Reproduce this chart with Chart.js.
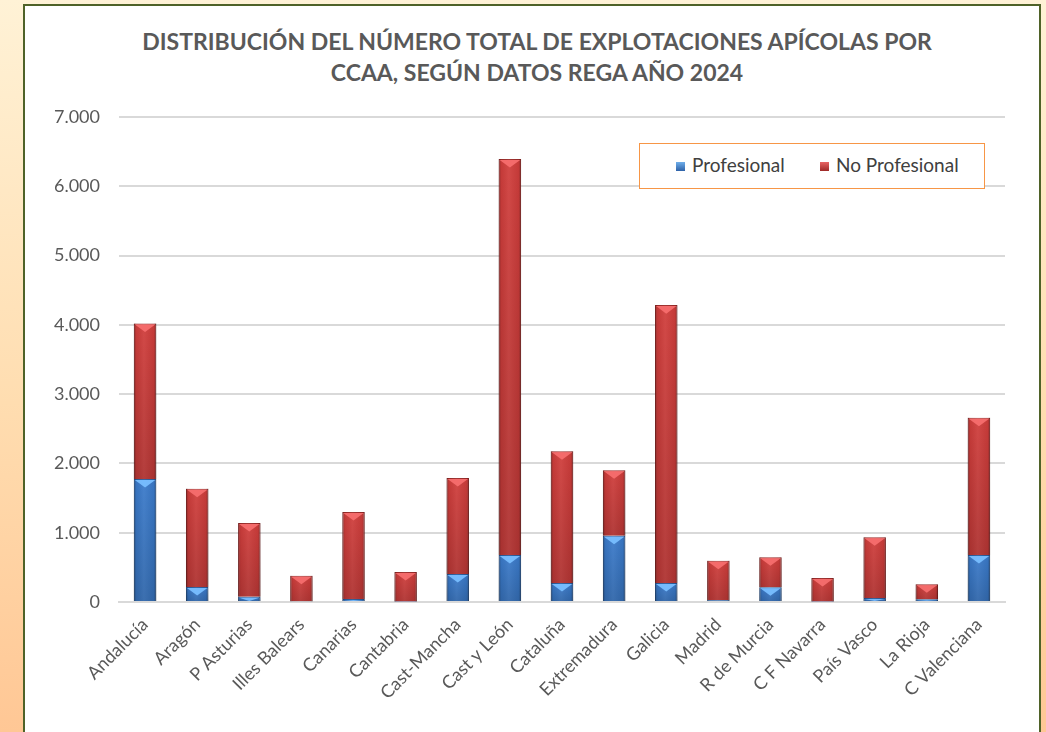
<!DOCTYPE html>
<html>
<head>
<meta charset="utf-8">
<script src="https://cdn.jsdelivr.net/npm/chart.js@4.4.1/dist/chart.umd.min.js"></script>
<style>
  html, body { margin:0; padding:0; width:1046px; height:732px; overflow:hidden;
    background: linear-gradient(to bottom, #FFF2D6 0%, #FFDDB0 55%, #FFC795 100%); }
  #box { position:absolute; left:23px; top:4px; width:1014px; height:760px;
    background:#fff; border:2px solid #4F6228; }
  #wrap { position:absolute; left:0; top:0; width:1046px; height:732px; }
  #title { position:absolute; left:0; top:26px; width:1074px; text-align:center;
    font-family:"Lato", "Liberation Sans", sans-serif; font-weight:bold; font-size:23px;
    line-height:31px; color:#595959; white-space:nowrap; }
  #legend { position:absolute; left:639px; top:143px; width:344px; height:44px;
    border:1.5px solid #F79646; background:#fff; font-family:"Lato", "Liberation Sans", sans-serif;
    font-size:19px; color:#404040; }
  .li { position:absolute; top:10px; line-height:22px; white-space:nowrap; }
  .sw { display:inline-block; width:9px; height:9px; margin-right:7px; vertical-align:1px; }
</style>
</head>
<body>
<div id="box"></div>
<div id="title"></div>
<div id="wrap"><canvas id="c" width="1046" height="732"></canvas></div>
<div id="legend">
  <div class="li" style="left:36px"><span class="sw" style="background:linear-gradient(#6FAEEA,#2E62A8)"></span>Profesional</div>
  <div class="li" style="left:180px"><span class="sw" style="background:linear-gradient(#E86464,#9E2A28)"></span>No Profesional</div>
</div>
<script>
const categories = ["Andalucía","Aragón","P Asturias","Illes Balears","Canarias","Cantabria","Cast-Mancha","Cast y León","Cataluña","Extremadura","Galicia","Madrid","R de Murcia","C F Navarra","País Vasco","La Rioja","C Valenciana"];
const profesional   = [1775, 215, 75, 10, 45, 8, 405, 680, 275, 955, 275, 30, 212, 8, 58, 40, 680];
const noProfesional = [2245, 1421, 1065, 368, 1254, 425, 1385, 5713, 1902, 945, 4010, 566, 433, 338, 876, 215, 1980];
const yTicks = [0, 1000, 2000, 3000, 4000, 5000, 6000, 7000];
const titleLines = ["DISTRIBUCIÓN DEL NÚMERO TOTAL DE EXPLOTACIONES APÍCOLAS POR", "CCAA, SEGÚN DATOS REGA AÑO 2024"];

document.getElementById('title').innerHTML = titleLines.map(t => '<div>' + t + '</div>').join('');

const FONT = '"Lato", "Liberation Sans", sans-serif';

const bevel = {
  id: 'bevel',
  afterDatasetDraw(chart, args) {
    const ctx = chart.ctx;
    const meta = args.meta;
    const light = args.index === 0 ? 'rgba(120,190,255,0.95)' : 'rgba(245,110,110,0.95)';
    meta.data.forEach(el => {
      const p = el.getProps(['x','y','base','width'], true);
      const left = p.x - p.width/2, right = p.x + p.width/2;
      const top = Math.min(p.y, p.base), h = Math.abs(p.base - p.y);
      if (h < 1) return;
      ctx.save();
      let g = ctx.createLinearGradient(left, 0, right, 0);
      g.addColorStop(0, 'rgba(0,0,0,0.28)');
      g.addColorStop(0.12, 'rgba(0,0,0,0.05)');
      g.addColorStop(0.45, 'rgba(255,255,255,0.06)');
      g.addColorStop(0.88, 'rgba(0,0,0,0.05)');
      g.addColorStop(1, 'rgba(0,0,0,0.28)');
      ctx.fillStyle = g;
      ctx.fillRect(left, top, p.width, h);
      let gv = ctx.createLinearGradient(0, top, 0, top + h);
      gv.addColorStop(0, 'rgba(0,0,0,0)');
      gv.addColorStop(1, 'rgba(0,0,0,0.15)');
      ctx.fillStyle = gv;
      ctx.fillRect(left, top, p.width, h);
      const th = Math.min(p.width * 0.38, h);
      ctx.beginPath();
      ctx.moveTo(left + 1, top + 1);
      ctx.lineTo(right - 1, top + 1);
      ctx.lineTo(p.x, top + th);
      ctx.closePath();
      ctx.fillStyle = light;
      ctx.fill();
      ctx.restore();
    });
  }
};

new Chart(document.getElementById('c'), {
  type: 'bar',
  data: {
    labels: categories,
    datasets: [
      { label: 'Profesional', data: profesional, backgroundColor: '#3B7BCB', borderColor: '#2B5C9C', borderWidth: 1, barPercentage: 0.43, categoryPercentage: 1 },
      { label: 'No Profesional', data: noProfesional, backgroundColor: '#D03E3C', borderColor: '#9C2B29', borderWidth: 1, barPercentage: 0.43, categoryPercentage: 1 }
    ]
  },
  options: {
    responsive: false,
    animation: false,
    layout: { padding: { left: 0, right: 41, top: 117, bottom: 0 } },
    plugins: {
      legend: { display: false },
      tooltip: { enabled: false },
      title: { display: false }
    },
    scales: {
      x: {
        stacked: true,
        grid: { display: false, drawTicks: false },
        border: { display: true, color: '#D9D9D9', width: 2 },
        ticks: { color: '#595959', font: { family: FONT, size: 18 }, maxRotation: 45, minRotation: 45, padding: 12, autoSkip: false },
        afterFit(s) { s.height = 130; }
      },
      y: {
        stacked: true,
        min: 0, max: 7000,
        afterBuildTicks(s) { s.ticks = yTicks.map(v => ({ value: v })); },
        grid: { color: '#D9D9D9', lineWidth: 2, drawTicks: false },
        border: { display: false },
        ticks: { color: '#595959', font: { family: FONT, size: 18 }, padding: 19,
          callback: v => v === 0 ? '0' : v.toLocaleString('de-DE') },
        afterFit(s) { s.width = 119; }
      }
    }
  },
  plugins: [bevel]
});
</script>
</body>
</html>
